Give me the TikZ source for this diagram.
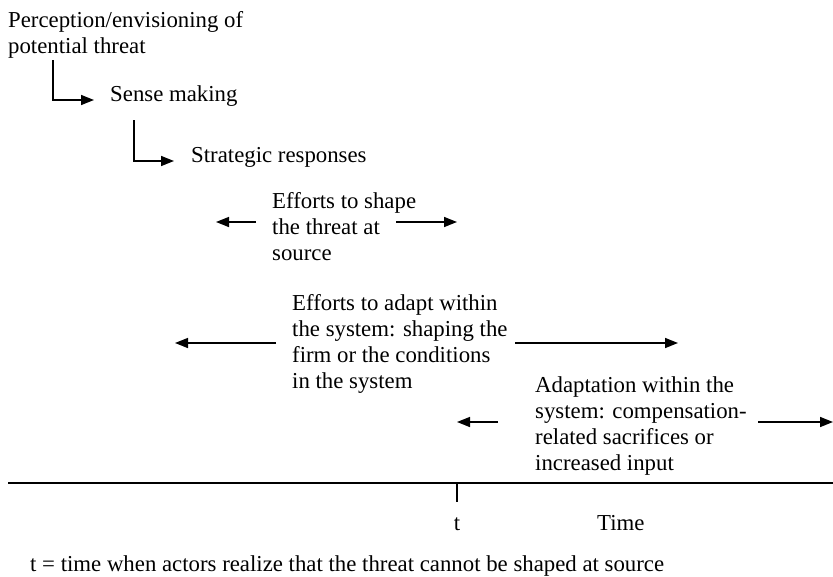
\documentclass[tikz,border=0pt]{standalone}
\usepackage{fontspec}
\setmainfont{Liberation Serif}
\usetikzlibrary{arrows.meta}
\begin{document}
\begin{tikzpicture}[x=1pt,y=-1pt,
  txt/.style={anchor=base west,align=left,inner sep=0pt,font=\fontsize{22.8}{26}\selectfont},
  arr/.style={line width=1.5pt,-{Triangle[length=13pt,width=10pt]}}]
\useasboundingbox (0,0) rectangle (833,576);
% texts (anchor = baseline of last line)
\node[txt] (perc) at (8,53) {Perception/envisioning of\\potential threat};
\node[txt] (sense) at (110,101) {Sense making};
\node[txt] (strat) at (191,162) {Strategic responses};
\node[txt] (shape) at (272,260) {Efforts to shape\\the threat at\\source};
\node[txt] (adapt) at (292,388) {Efforts to adapt within\\the system: shaping the\\firm or the conditions\\in the system};
\node[txt] (adapt2) at (535,470) {Adaptation within the\\system: compensation-\\related sacrifices or\\increased input};
\node[txt,anchor=base] (t) at (457,530) {t};
\node[txt] (time) at (597,530) {Time};
\node[txt] (note) at (30,571) {t = time when actors realize that the threat cannot be shaped at source};
% elbow arrows
\coordinate (e1a) at (53,60);
\coordinate (e1b) at (94,100);
\draw[arr] (e1a) |- (e1b);
\coordinate (e2a) at (134,120);
\coordinate (e2b) at (174,161);
\draw[arr] (e2a) |- (e2b);
% horizontal arrows
\coordinate (s1) at (256,222); \coordinate (t1) at (216,222);
\coordinate (s2) at (396,222); \coordinate (t2) at (457,222);
\draw[arr] (s1) -- (t1);
\draw[arr] (s2) -- (t2);
\coordinate (s3) at (276,343); \coordinate (t3) at (175,343);
\coordinate (s4) at (515,343); \coordinate (t4) at (678,343);
\draw[arr] (s3) -- (t3);
\draw[arr] (s4) -- (t4);
\coordinate (s5) at (498,422); \coordinate (t5) at (457,422);
\coordinate (s6) at (758,422); \coordinate (t6) at (833,422);
\draw[arr] (s5) -- (t5);
\draw[arr] (s6) -- (t6);
% timeline
\coordinate (la) at (8,483); \coordinate (lb) at (833,483);
\draw[line width=1.8pt] (la) -- (lb);
\coordinate (tk) at (457,483); \coordinate (tkb) at (457,502);
\draw[line width=1.5pt] (tk) -- (tkb);
\end{tikzpicture}
\end{document}
